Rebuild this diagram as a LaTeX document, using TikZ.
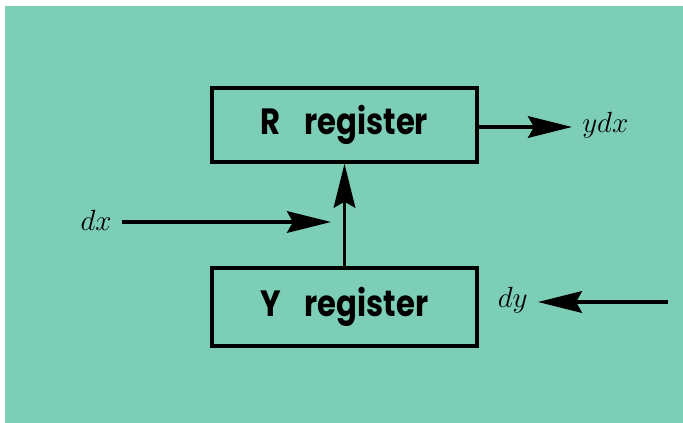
\documentclass[tikz,border=0pt]{standalone}
\usepackage{fontspec}
\usepackage{graphicx}
\newfontfamily\regfont{Poppins}
\usetikzlibrary{arrows.meta}
\definecolor{card}{RGB}{124,206,182}
\newcommand{\regname}[1]{\scalebox{0.84}[1]{#1\hspace{7mm}register}}

\begin{document}
\begin{tikzpicture}[x=0.25mm,y=-0.25mm,
  >={Stealth[length=11mm,width=5.4mm,inset=1.5mm]},
  reg/.style={draw,line width=0.85mm,minimum width=66.25mm,
    font=\regfont\bfseries\fontsize{26}{30}\selectfont},
  lab/.style={font=\fontsize{21}{24}\selectfont,inner sep=2.5mm},
  flow/.style={->,line width=0.9mm}]
\useasboundingbox (0,0) rectangle (683,423);
\fill[white] (0,0) rectangle (683,423);
\fill[card] (5,6) rectangle (683,423);

% the two registers
\node[reg,minimum height=18.5mm] (rreg) at (344.5,125) {\regname{R}};
\node[reg,minimum height=19.5mm] (yreg) at (344.5,307) {\regname{Y}};

% inputs and output
\node[lab,anchor=west] (ydx) at (572,125) {$ydx$};
\node[lab,anchor=east] (dx) at (122,220) {$dx$};
\node[lab,anchor=east] (dy) at (538,300) {$dy$};
\coordinate (dxend) at (331,222);
\coordinate (dystart) at (668,302);

\draw[flow] (rreg.east |- 0,127) -- (ydx.west |- 0,127);
\draw[flow] (dx.east |- dxend) -- (dxend);
\draw[flow] (yreg.north) -- (rreg.south);
\draw[flow] (dystart) -- (dy.east |- dystart);
\end{tikzpicture}
\end{document}
